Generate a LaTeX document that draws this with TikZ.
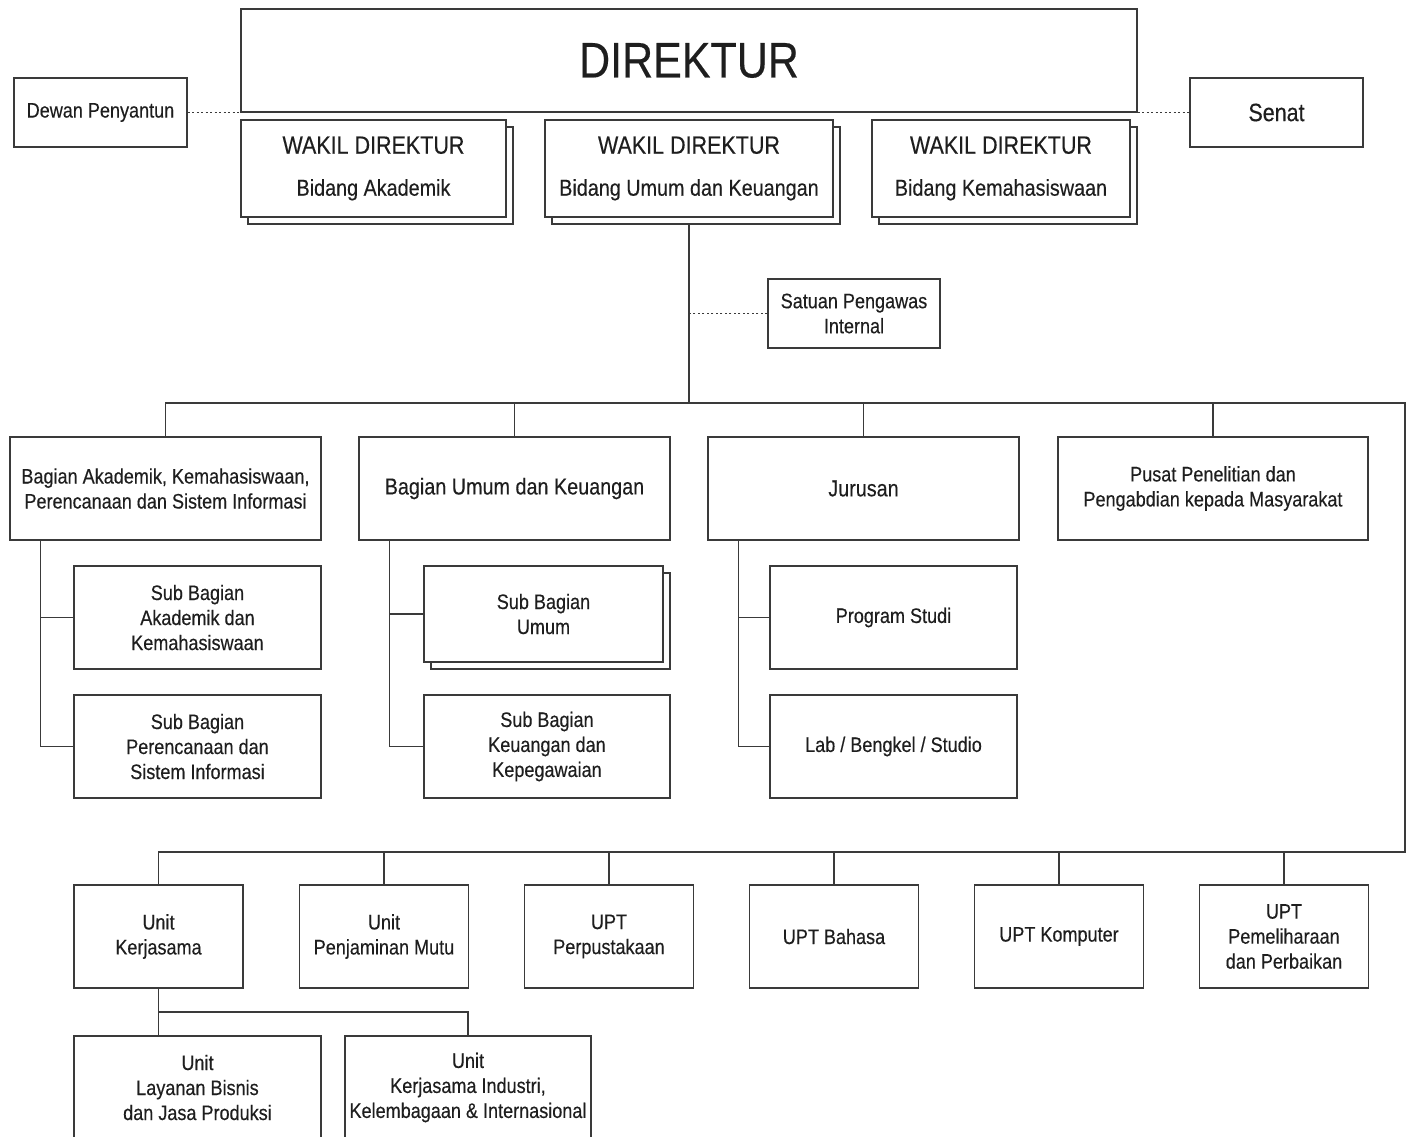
\documentclass[tikz,border=0pt]{standalone}
\usepackage{fontspec}
\setmainfont{Liberation Sans}[FakeStretch=0.86,FakeBold=0.3]
\usetikzlibrary{calc,shadows}
\definecolor{linec}{HTML}{3a3a3a}
\definecolor{textc}{HTML}{1e1e1e}

\begin{document}
\begin{tikzpicture}[x=1pt,y=-1pt,
% common options for boxes:
box/.style = {draw=linec, line width=1.4pt, fill=white, text=textc, align=center,
            inner sep=0, font=\fontsize{21}{25}\selectfont},
big/.style = {font=\fontsize{23}{28}\selectfont},
% boxes with a second box behind them:
stack/.style = {copy shadow={shadow xshift=7pt, shadow yshift=-7pt, fill=white,
            draw=linec, line width=1.4pt}},
unitbox/.style = {box, minimum width=169pt, minimum height=103pt},
subbox/.style = {box, minimum width=247pt, minimum height=103pt},
bagbox/.style = {box, minimum width=311pt, minimum height=103pt},
% common options for the lines:
link/.style = {draw=linec, line width=1.4pt},
dots/.style = {draw=linec, line width=1.5pt, dash pattern=on 2pt off 2.5pt}]
\useasboundingbox (0,0) rectangle (1411,1136);
\node[box,minimum width=896pt,minimum height=103pt,font=\fontsize{50}{60}\selectfont] (dir) at (689,60.5) {DIREKTUR};
\node[box,minimum width=173pt,minimum height=69pt] (dp) at (100.5,112.5) {Dewan Penyantun};
\node[box,minimum width=173pt,minimum height=69pt,font=\fontsize{25}{30}\selectfont] (sen) at (1276.5,112.5) {Senat};
\node[box,stack,big,minimum width=265pt,minimum height=97pt] (wd1) at (373.5,168.5) {{\fontsize{25}{30}\selectfont WAKIL DIREKTUR}\\[14pt]Bidang Akademik};
\node[box,stack,big,minimum width=288pt,minimum height=97pt] (wd2) at (689,168.5) {{\fontsize{25}{30}\selectfont WAKIL DIREKTUR}\\[14pt]Bidang Umum dan Keuangan};
\node[box,stack,big,minimum width=258pt,minimum height=97pt] (wd3) at (1001,168.5) {{\fontsize{25}{30}\selectfont WAKIL DIREKTUR}\\[14pt]Bidang Kemahasiswaan};
\node[box,minimum width=172pt,minimum height=69pt] (spi) at (854,313.5) {Satuan Pengawas\\Internal};
% bagian, jurusan, pusat
\node[bagbox] (ba) at (165.5,488.5) {Bagian Akademik, Kemahasiswaan,\\Perencanaan dan Sistem Informasi};
\node[bagbox,big] (bu) at (514.5,488.5) {Bagian Umum dan Keuangan};
\node[bagbox,big] (jur) at (863.5,488.5) {Jurusan};
\node[bagbox,minimum width=310pt] (pus) at (1213,488.5) {Pusat Penelitian dan\\Pengabdian kepada Masyarakat};
% sub bagian
\node[subbox] (sb1) at (197.5,617.5) {Sub Bagian\\Akademik dan\\Kemahasiswaan};
\node[subbox] (sb2) at (197.5,746.5) {Sub Bagian\\Perencanaan dan\\Sistem Informasi};
\node[subbox,stack,minimum width=239pt,minimum height=96pt] (sbu) at (543.5,614) {Sub Bagian\\Umum};
\node[subbox,minimum width=246pt] (sbk) at (547,746.5) {Sub Bagian\\Keuangan dan\\Kepegawaian};
\node[subbox] (ps) at (893.5,617.5) {Program Studi};
\node[subbox] (lab) at (893.5,746.5) {Lab / Bengkel / Studio};
% unit dan UPT
\node[unitbox] (u1) at (158.5,936.5) {Unit\\Kerjasama};
\node[unitbox] (u2) at (384,936.5) {Unit\\Penjaminan Mutu};
\node[unitbox] (u3) at (609,936.5) {UPT\\Perpustakaan};
\node[unitbox] (u4) at (834,936.5) {UPT Bahasa};
\node[unitbox] (u5) at (1059,936.5) {UPT Komputer};
\node[unitbox] (u6) at (1284,936.5) {UPT\\Pemeliharaan\\dan Perbaikan};
\node[subbox] (ulb) at (197.5,1087.5) {Unit\\Layanan Bisnis\\dan Jasa Produksi};
\node[subbox,minimum width=246pt] (uki) at (468,1087.5) {Unit\\Kerjasama Industri,\\Kelembagaan \& Internasional};
% lines
\coordinate (ne) at (1405,403);
\coordinate (se) at (1405,852);
\draw[dots] (dp.east) -- (dp.east -| dir.west);
\draw[dots] (sen.west -| dir.east) -- (sen.west);
\draw[link] ([yshift=-7pt]wd2.south) -- (wd2.south |- ne);
\draw[dots] (spi.west) -- (spi.west -| wd2.south);
\draw[link] (ba.north) |- (ne) -- (se) -| (u1.north);
\foreach \n in {bu,jur,pus} \draw[link] (\n.north) -- (\n.north |- ne);
\foreach \n in {u2,u3,u4,u5,u6} \draw[link] (\n.north) -- (\n.north |- se);
\foreach \p/\a/\b in {ba/sb1/sb2,bu/sbu/sbk,jur/ps/lab} {
  \coordinate (\p x) at ($(\p.south west)!.1!(\p.south east)$);
  \draw[link] (\p x) |- (\b.west);
  \draw[link] (\a.west) -- (\a.west -| \p x);
}
\draw[link] (u1.south) -- (u1.south |- ulb.north);
\draw[link] ($(u1.south)!.5!(u1.south |- ulb.north)$) -| (uki.north);
\end{tikzpicture}
\end{document}
